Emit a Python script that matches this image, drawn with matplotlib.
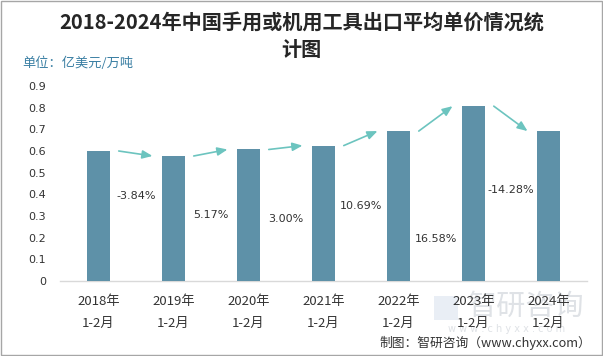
import matplotlib
matplotlib.use("Agg")
import matplotlib.pyplot as plt
from matplotlib.patches import Rectangle

plt.rcParams['font.family'] = ['Noto Sans CJK SC', 'DejaVu Sans']

categories = ["2018年\n1-2月", "2019年\n1-2月", "2020年\n1-2月", "2021年\n1-2月",
              "2022年\n1-2月", "2023年\n1-2月", "2024年\n1-2月"]
values = [0.600, 0.577, 0.607, 0.625, 0.692, 0.807, 0.692]
growth_labels = ["-3.84%", "5.17%", "3.00%", "10.69%", "16.58%", "-14.28%"]
label_y = [0.392, 0.305, 0.286, 0.346, 0.194, 0.420]
yticks = [0, 0.1, 0.2, 0.3, 0.4, 0.5, 0.6, 0.7, 0.8, 0.9]
ytick_labels = ["0", "0.1", "0.2", "0.3", "0.4", "0.5", "0.6", "0.7", "0.8", "0.9"]

bar_color = "#5e91a8"
arrow_color = "#6cc4bf"
text_color = "#333333"

fig = plt.figure(figsize=(6.03, 3.56), dpi=100)

# Watermark (drawn behind everything)
fig.patches.append(Rectangle((434 / 603, 1 - 320 / 356), 24 / 603, 24 / 356,
                             transform=fig.transFigure, facecolor="#e9eef5",
                             edgecolor="none", zorder=-2))
fig.text(526 / 603, 1 - 307 / 356, "智研咨询", ha="center", va="center",
         fontsize=21, color="#dfe2e6", zorder=-2)
fig.text(507 / 603, 1 - 329 / 356, "w w w . c h y x x . c o m", ha="center",
         va="center", fontsize=7, color="#dfe2e6", zorder=-2, family=['DejaVu Sans'])

ax = fig.add_axes([0.0995, 0.2107, 0.874, 0.5477])
ax.patch.set_alpha(0)

x = list(range(len(values)))
ax.bar(x, values, width=0.31, color=bar_color, zorder=3)

for i in range(len(values) - 1):
    ax.annotate("", xy=(i + 0.72, values[i + 1]), xytext=(i + 0.27, values[i]),
                arrowprops=dict(arrowstyle="-|>,head_length=0.6,head_width=0.25",
                                color=arrow_color, lw=1.2, shrinkA=0, shrinkB=0),
                zorder=4)
    ax.text(i + 0.5, label_y[i], growth_labels[i], ha="center", va="center",
            fontsize=8, color=text_color, family=['DejaVu Sans'], zorder=5)

ax.set_xlim(-0.513, 6.513)
ax.set_ylim(0, 0.9)
ax.set_yticks(yticks)
ax.set_yticklabels(ytick_labels, fontsize=8, color=text_color, family=['DejaVu Sans'])
ax.set_xticks(x)
ax.set_xticklabels(categories, fontsize=9.5, color=text_color, linespacing=1.9)
ax.tick_params(axis='both', length=0)
ax.tick_params(axis='y', pad=10)
ax.tick_params(axis='x', pad=10)
for s in ["top", "right", "left"]:
    ax.spines[s].set_visible(False)
ax.spines["bottom"].set_color("#d9d9d9")
ax.spines["bottom"].set_linewidth(1)

# Title
fig.text(0.5, 1 - 22 / 356, "2018-2024年中国手用或机用工具出口平均单价情况统",
         ha="center", va="center", fontsize=14.5, fontweight="bold", color="#262626")
fig.text(0.5, 1 - 50 / 356, "计图", ha="center", va="center", fontsize=14.5,
         fontweight="bold", color="#262626")

# Unit
fig.text(22 / 603, 1 - 63 / 356, "单位：亿美元/万吨", ha="left", va="center",
         fontsize=9.5, color="#3a7fa3")

# Source
fig.text(591 / 603, 1 - 343 / 356, "制图：智研咨询（www.chyxx.com）", ha="right",
         va="center", fontsize=9.2, color="#333333")

# Border
fig.patches.append(Rectangle((0.001, 0.002), 0.997, 0.996, transform=fig.transFigure,
                             fill=False, edgecolor="#a6a6a6", linewidth=1))

fig.savefig("out.png", dpi=100)
